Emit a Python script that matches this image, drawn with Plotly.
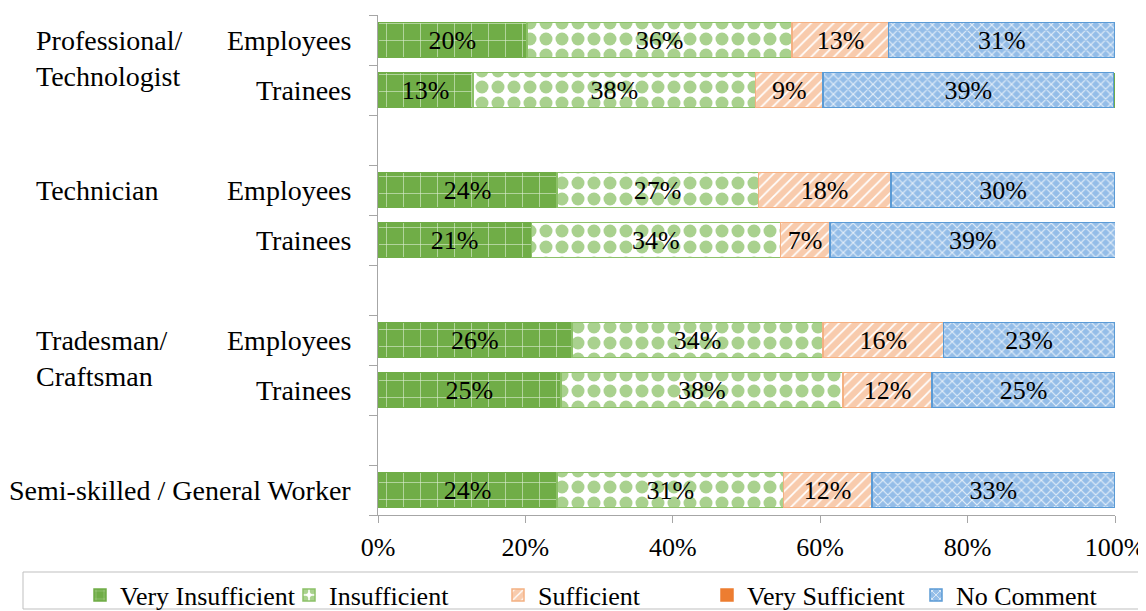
import plotly.graph_objects as go

# rows, top to bottom
group_labels = ["Professional/<br>Technologist", "Technician", "Tradesman/<br>Craftsman"]
row_group = [0, 0, 1, 1, 2, 2, 3]
row_labels = ["Employees", "Trainees", "Employees", "Trainees",
              "Employees", "Trainees", "Semi-skilled / General Worker"]

# share of answers (%) per row
very_insufficient = [20.2, 12.9, 24.3, 20.8, 26.3, 24.8, 24.3]
insufficient = [36.0, 38.3, 27.3, 33.8, 34.1, 38.3, 30.7]
sufficient = [13.1, 9.2, 18.0, 6.7, 16.3, 12.1, 12.0]
very_sufficient = [0, 0, 0, 0, 0, 0, 0]
no_comment = [30.7, 39.4, 30.4, 38.8, 23.3, 24.8, 33.0]
end_marker = [0.3, 0.3, 0.3, 0.3, 0.3, 0.3, 0.3]

x_ticks = [0, 20, 40, 60, 80, 100]

FONT = "Liberation Serif"
W, H = 1146, 611
OFF = 8  # page body margin shifts the figure by this much
L, R, T, B = 378 - OFF, 31 + OFF, 15 - OFF, 96 + OFF
PW = W - L - R
PH = H - T - B

# y slot for each row, with an empty slot between groups
y_pos = []
slot = 0
for i, g in enumerate(row_group):
    if i > 0 and g != row_group[i - 1]:
        slot += 1
    y_pos.append(slot)
    slot += 1
n_slots = slot

series = [
    ("Very Insufficient", very_insufficient,
     dict(shape="+", fgcolor="#DDEDD2", bgcolor="#70AD47", size=17, solidity=0.07), "#70AD47"),
    ("Insufficient", insufficient,
     dict(shape=".", fgcolor="#A9D18E", bgcolor="#FFFFFF", size=16, solidity=0.52), "#8CC168"),
    ("Sufficient", sufficient,
     dict(shape="/", fgcolor="#FFFFFF", bgcolor="#F8CBAD", size=8, solidity=0.22), "#F4B183"),
    ("Very Sufficient", very_sufficient, None, "#ED7D31"),
    ("No Comment", no_comment,
     dict(shape="x", fgcolor="#E3EEF9", bgcolor="#94BDE8", size=7, solidity=0.3), "#5B9BD5"),
]

fig = go.Figure()
for name, vals, pat, col in series:
    marker = dict(color=col if pat is None else pat["bgcolor"],
                  line=dict(color=col, width=1.5))
    if pat is not None:
        marker["pattern"] = dict(pat, fgopacity=1)
    show_text = name != "Very Sufficient"
    fig.add_trace(go.Bar(
        name=name, y=y_pos, x=vals, orientation="h", width=0.7,
        marker=marker,
        texttemplate="%{x:.0f}%" if show_text else None,
        textposition="inside" if show_text else "none",
        insidetextanchor="middle", constraintext="none",
        textfont=dict(family=FONT, size=26, color="black"),
        hoverinfo="x+name",
    ))

fig.add_trace(go.Bar(
    name="", y=y_pos, x=end_marker, orientation="h", width=0.7,
    marker=dict(color="#70AD47", line=dict(width=0)),
    showlegend=False, textposition="none", hoverinfo="skip",
))

annotations = []
for yp, lab in zip(y_pos, row_labels):
    annotations.append(dict(x=-25 / PW, y=yp, xref="paper", yref="y", text=lab,
                            showarrow=False, xanchor="right", yanchor="middle",
                            font=dict(family=FONT, size=28, color="black")))
for gi, lab in enumerate(group_labels):
    first = y_pos[row_group.index(gi)]
    off = 0.36 if "<br>" in lab else 0
    annotations.append(dict(x=-344 / PW, y=first + off, xref="paper", yref="y", text=lab,
                            showarrow=False, xanchor="left", yanchor="middle", align="left",
                            font=dict(family=FONT, size=28, color="black")))


# page pixel -> paper coordinates
def py(p):
    return (T + PH - (p - OFF)) / PH


def px(p):
    return (p - OFF - L) / PW


# legend frame
shapes = [dict(type="rect", xref="paper", yref="paper",
               x0=px(23), x1=px(1145), y0=py(609), y1=py(572),
               line=dict(color="#BFBFBF", width=1), fillcolor="rgba(0,0,0,0)")]

fig.update_layout(
    barmode="stack",
    width=W, height=H,
    margin=dict(l=L, r=R, t=T, b=B, autoexpand=False),
    paper_bgcolor="white", plot_bgcolor="white",
    font=dict(family=FONT, size=26, color="black"),
    annotations=annotations,
    shapes=shapes,
    xaxis=dict(range=[0, 100], tickvals=x_ticks, ticktext=[f"{v}%" for v in x_ticks],
               showgrid=False, zeroline=False, showline=True, linecolor="#A6A6A6",
               linewidth=1, ticks="outside", ticklen=7, tickcolor="#A6A6A6",
               ticklabelstandoff=2, tickfont=dict(family=FONT, size=26)),
    yaxis=dict(range=[n_slots - 0.5, -0.5], showgrid=False, zeroline=False,
               showline=True, linecolor="#A6A6A6", linewidth=1,
               tickvals=[i - 0.5 for i in range(n_slots + 1)],
               ticktext=["" for _ in range(n_slots + 1)],
               ticks="outside", ticklen=8, tickcolor="#A6A6A6"),
    legend=dict(orientation="h", xref="paper", x=px(80), xanchor="left",
                yref="paper", y=py(595), yanchor="middle",
                bgcolor="rgba(0,0,0,0)", borderwidth=0, traceorder="normal",
                font=dict(family=FONT, size=26), itemwidth=30,
                entrywidth=164, entrywidthmode="pixels"),
    showlegend=True,
)

fig.write_html("out.html")
